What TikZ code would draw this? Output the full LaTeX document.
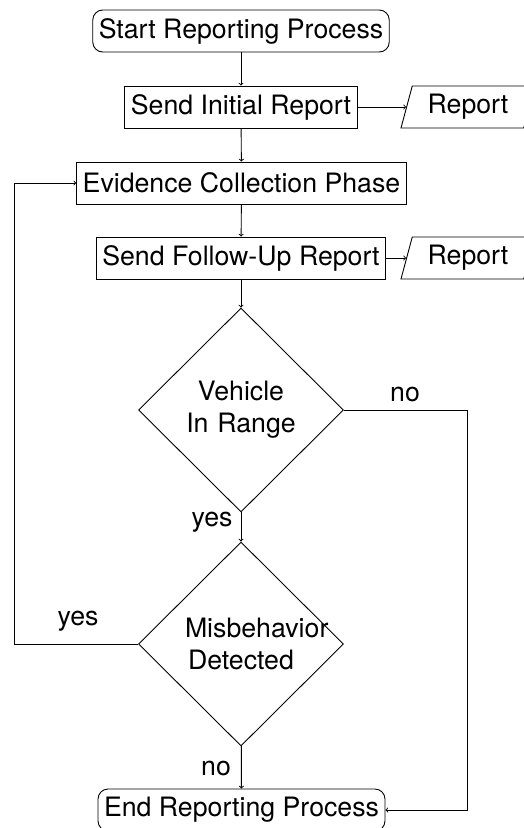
\documentclass[tikz,border=0pt]{standalone}
\usepackage{fontspec}
\setmainfont{TeX Gyre Heros}
\usetikzlibrary{shapes.geometric}
\begin{document}
\begin{tikzpicture}[x=1pt,y=-1pt,
  every node/.style={font=\fontsize{26.7}{32}\selectfont},
  proc/.style={draw, line width=0.9pt, rectangle, minimum height=42pt, inner xsep=6pt, inner ysep=0pt},
  term/.style={proc, rounded corners=10pt},
  io/.style={draw, line width=0.9pt, trapezium, trapezium left angle=66, trapezium right angle=114,
    trapezium stretches body, minimum height=42pt, minimum width=134pt, inner sep=0pt},
  decision/.style={draw, line width=0.9pt, diamond, minimum width=205pt, minimum height=204pt,
    inner sep=0pt, text width=112pt, align=center},
  conn/.style={->, line width=0.9pt},
  lbl/.style={inner sep=0pt}
]
\useasboundingbox (0,0) rectangle (523,828);

% process steps
\node[term] (start) at (241,31) {Start Reporting Process};
\node[proc] (init) at (241,107) {Send Initial Report};
\node[io] (rep1) at (468,107) {Report};
\node[proc] (evid) at (241.5,183) {Evidence Collection Phase};
\node[proc] (follow) at (241,258) {Send Follow-Up Report};
\node[io] (rep2) at (468,258) {Report};
\node[decision] (range) at (241,410) {Vehicle\\In Range};
\node[decision] (misb) at (241,644) {Misbehavior\\Detected};
\node[term] (end) at (241.5,810) {End Reporting Process};

% corner points of the loop-back lines
\coordinate (nocorner) at (467,410);
\coordinate (yescorner) at (14,644);

% connectors
\draw[conn] (start) -- (init);
\draw[conn] (init) -- (rep1);
\draw[conn] (init) -- (evid);
\draw[conn] (evid) -- (follow);
\draw[conn] (follow) -- (rep2);
\draw[conn] (follow) -- (range);
\draw[conn] (range) -- (misb);
\draw[conn] (misb) -- (end);
\draw[conn] (range.east) -- (nocorner) |- (end.east);
\draw[conn] (misb.west) -- (yescorner) |- (evid.west);

% branch labels
\node[lbl] (lno1) at (405,394) {no};
\node[lbl] (lyes1) at (212,522) {yes};
\node[lbl] (lyes2) at (78,621) {yes};
\node[lbl] (lno2) at (216,768) {no};
\end{tikzpicture}
\end{document}
